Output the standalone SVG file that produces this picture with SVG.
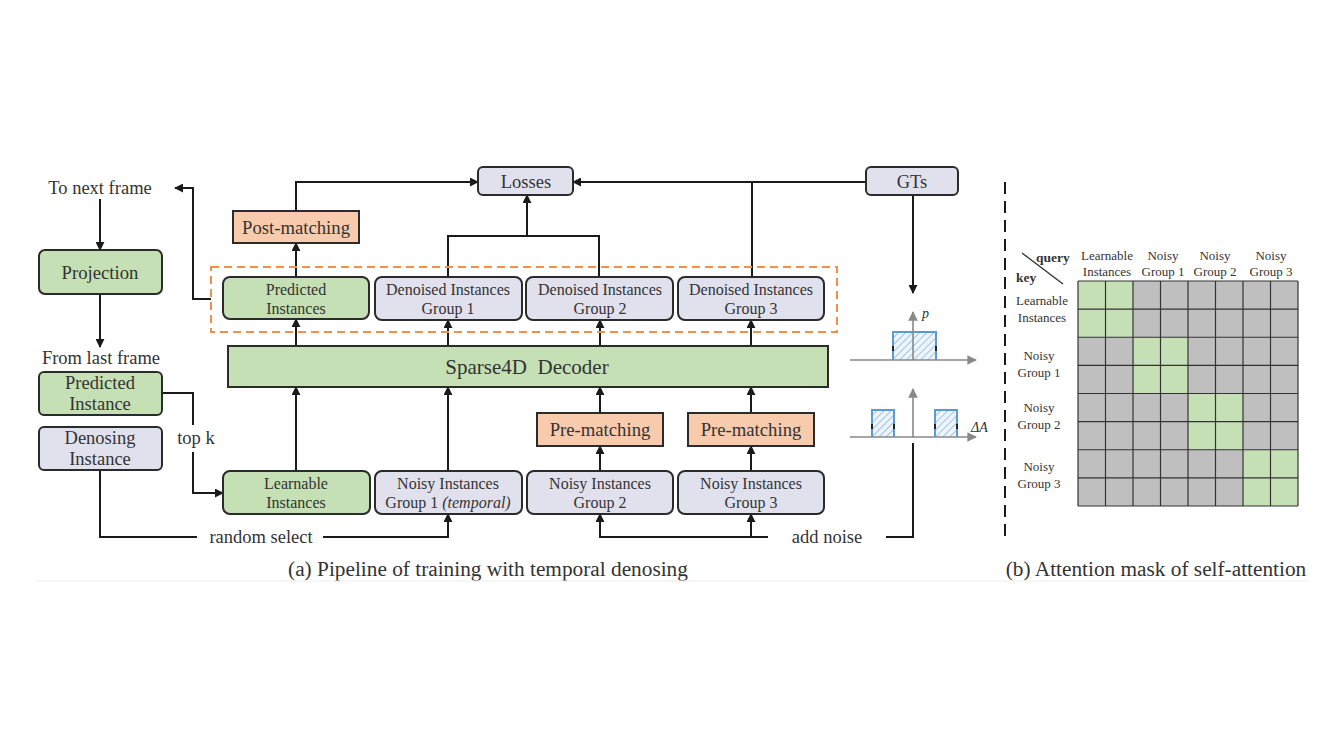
<svg xmlns="http://www.w3.org/2000/svg" width="1344" height="747" viewBox="0 0 1344 747">
<style>
text{font-family:"Liberation Serif","Times New Roman",serif;fill:#333;}
.bx{stroke:#2b2b2b;stroke-width:2;}
.g{fill:#c5e0b4;}
.p{fill:#e1e1ee;}
.o{fill:#f8cbad;}
.ln{fill:none;stroke:#1a1a1a;stroke-width:2;}
.ax{fill:none;stroke:#888;stroke-width:1.6;}
.t15{font-size:16px;text-anchor:middle;}
.t17{font-size:18.5px;text-anchor:middle;}
.t18{font-size:18.7px;text-anchor:middle;}
.t12{font-size:13px;text-anchor:middle;}
</style>
<defs>
<marker id="ar" viewBox="0 0 10 10" refX="9" refY="5" markerWidth="4.5" markerHeight="4.5" orient="auto-start-reverse" markerUnits="strokeWidth">
<path d="M0,0 L10,5 L0,10 z" fill="#1a1a1a"/>
</marker>
<marker id="ag" viewBox="0 0 10 10" refX="9" refY="5" markerWidth="6" markerHeight="6" orient="auto" markerUnits="strokeWidth">
<path d="M0,0 L10,5 L0,10 z" fill="#888"/>
</marker>
<pattern id="hatch" width="5" height="5" patternUnits="userSpaceOnUse" patternTransform="rotate(45)">
<rect width="5" height="5" fill="#eef4fb"/>
<line x1="0" y1="0" x2="0" y2="5" stroke="#9ec3e6" stroke-width="2"/>
</pattern>
</defs>
<rect width="1344" height="747" fill="#fff"/>

<!-- connectors -->
<g id="connectors">
<line class="ln" x1="100" y1="199" x2="100" y2="250" marker-end="url(#ar)"/>
<line class="ln" x1="100" y1="294" x2="100" y2="347" marker-end="url(#ar)"/>
<polyline class="ln" points="211,299 193,299 193,188 175,188" marker-end="url(#ar)"/>
<polyline class="ln" points="162,393 193,393 193,425"/>
<polyline class="ln" points="193,452 193,493 223,493" marker-end="url(#ar)"/>
<polyline class="ln" points="100,470 100,537 197,537"/>
<polyline class="ln" points="323,537 448,537 448,514" marker-end="url(#ar)"/>
<line class="ln" x1="296" y1="471" x2="296" y2="387" marker-end="url(#ar)"/>
<line class="ln" x1="448" y1="471" x2="448" y2="387" marker-end="url(#ar)"/>
<line class="ln" x1="600" y1="471" x2="600" y2="446" marker-end="url(#ar)"/>
<line class="ln" x1="600" y1="413" x2="600" y2="387" marker-end="url(#ar)"/>
<line class="ln" x1="751" y1="471" x2="751" y2="446" marker-end="url(#ar)"/>
<line class="ln" x1="751" y1="413" x2="751" y2="387" marker-end="url(#ar)"/>
<line class="ln" x1="296" y1="346" x2="296" y2="319" marker-end="url(#ar)"/>
<line class="ln" x1="448" y1="346" x2="448" y2="320" marker-end="url(#ar)"/>
<line class="ln" x1="600" y1="346" x2="600" y2="320" marker-end="url(#ar)"/>
<line class="ln" x1="751" y1="346" x2="751" y2="320" marker-end="url(#ar)"/>
<line class="ln" x1="296" y1="277" x2="296" y2="243" marker-end="url(#ar)"/>
<polyline class="ln" points="296,211 296,182 478,182" marker-end="url(#ar)"/>
<polyline class="ln" points="448,277 448,236 599,236 599,277"/>
<line class="ln" x1="527" y1="236" x2="527" y2="195" marker-end="url(#ar)"/>
<line class="ln" x1="866" y1="182" x2="573" y2="182" marker-end="url(#ar)"/>
<line class="ln" x1="752" y1="277" x2="752" y2="182"/>
<line class="ln" x1="913" y1="195" x2="913" y2="293" marker-end="url(#ar)"/>
<polyline class="ln" points="913,443 913,537 886,537"/>
<polyline class="ln" points="768,537 600,537 600,514" marker-end="url(#ar)"/>
<line class="ln" x1="751" y1="537" x2="751" y2="514" marker-end="url(#ar)"/>
</g>

<!-- left column -->
<text class="t17" x="100" y="194">To next frame</text>
<g id="projection">
<rect class="bx g" x="39" y="250" width="123" height="44" rx="6"/>
<text class="t18" x="100" y="279">Projection</text>
</g>
<text class="t17" x="101" y="364">From last frame</text>
<g id="predicted-instance">
<rect class="bx g" x="39" y="372" width="123" height="43" rx="5"/>
<text class="t17" x="100" y="389">Predicted</text>
<text class="t17" x="100" y="410">Instance</text>
</g>
<g id="denosing-instance">
<rect class="bx p" x="39" y="427" width="123" height="43" rx="5"/>
<text class="t17" x="100" y="444">Denosing</text>
<text class="t17" x="100" y="465">Instance</text>
</g>
<text x="196" y="444" style="font-size:18.5px;text-anchor:middle">top k</text>
<text x="261" y="543" style="font-size:18.5px;text-anchor:middle">random select</text>
<text x="827" y="543" style="font-size:18.5px;text-anchor:middle">add noise</text>

<!-- top nodes -->
<g id="losses">
<rect class="bx p" x="478" y="167" width="95" height="28" rx="5"/>
<text class="t17" x="526" y="188">Losses</text>
</g>
<g id="gts">
<rect class="bx p" x="866" y="167" width="92" height="28" rx="5"/>
<text class="t17" x="912" y="188">GTs</text>
</g>
<g id="post-matching">
<rect class="bx o" x="233" y="211" width="126" height="32"/>
<text class="t18" x="296" y="234">Post-matching</text>
</g>

<rect x="211" y="267" width="626" height="65" fill="none" stroke="#f0904a" stroke-width="2" stroke-dasharray="8,5"/>

<g id="predicted-instances">
<rect class="bx g" x="223" y="277" width="146" height="42" rx="7"/>
<text class="t15" x="296" y="295">Predicted</text>
<text class="t15" x="296" y="314">Instances</text>
</g>
<g id="denoised-1">
<rect class="bx p" x="375" y="277" width="147" height="43" rx="7"/>
<text class="t15" x="448" y="295">Denoised Instances</text>
<text class="t15" x="448" y="314">Group 1</text>
</g>
<g id="denoised-2">
<rect class="bx p" x="526" y="277" width="147" height="43" rx="7"/>
<text class="t15" x="600" y="295">Denoised Instances</text>
<text class="t15" x="600" y="314">Group 2</text>
</g>
<g id="denoised-3">
<rect class="bx p" x="678" y="277" width="146" height="43" rx="7"/>
<text class="t15" x="751" y="295">Denoised Instances</text>
<text class="t15" x="751" y="314">Group 3</text>
</g>

<g id="decoder">
<rect class="bx g" x="228" y="346" width="600" height="41"/>
<text x="527" y="374" style="font-size:21px;text-anchor:middle;white-space:pre">Sparse4D  Decoder</text>
</g>

<g id="pre-matching-2">
<rect class="bx o" x="537" y="413" width="126" height="33"/>
<text class="t18" x="600" y="436">Pre-matching</text>
</g>
<g id="pre-matching-3">
<rect class="bx o" x="688" y="413" width="126" height="33"/>
<text class="t18" x="751" y="436">Pre-matching</text>
</g>

<g id="learnable-instances">
<rect class="bx g" x="223" y="471" width="147" height="43" rx="7"/>
<text class="t15" x="296" y="489">Learnable</text>
<text class="t15" x="296" y="508">Instances</text>
</g>
<g id="noisy-1">
<rect class="bx p" x="375" y="471" width="147" height="43" rx="7"/>
<text class="t15" x="448" y="489">Noisy Instances</text>
<text class="t15" x="448" y="508">Group 1 <tspan font-style="italic">(temporal)</tspan></text>
</g>
<g id="noisy-2">
<rect class="bx p" x="527" y="471" width="146" height="43" rx="7"/>
<text class="t15" x="600" y="489">Noisy Instances</text>
<text class="t15" x="600" y="508">Group 2</text>
</g>
<g id="noisy-3">
<rect class="bx p" x="678" y="471" width="146" height="43" rx="7"/>
<text class="t15" x="751" y="489">Noisy Instances</text>
<text class="t15" x="751" y="508">Group 3</text>
</g>

<!-- plots -->
<g id="plot-p">
<rect x="893" y="332" width="43" height="28" fill="url(#hatch)"/>
<polyline points="893,360 893,332 936,332 936,360" fill="none" stroke="#5b9bd5" stroke-width="2"/>
<line x1="893" y1="346" x2="893" y2="351" stroke="#222" stroke-width="2"/>
<line x1="936" y1="346" x2="936" y2="351" stroke="#222" stroke-width="2"/>
<line class="ax" x1="850" y1="360" x2="976" y2="360" marker-end="url(#ag)"/>
<line class="ax" x1="913" y1="360" x2="913" y2="312" marker-end="url(#ag)"/>
<text x="922" y="318" style="font-size:14px;font-style:italic">p</text>
</g>
<g id="plot-da">
<rect x="872" y="410" width="22" height="27" fill="url(#hatch)"/>
<rect x="935" y="410" width="22" height="27" fill="url(#hatch)"/>
<polyline points="872,437 872,410 894,410 894,437" fill="none" stroke="#5b9bd5" stroke-width="2"/>
<polyline points="935,437 935,410 957,410 957,437" fill="none" stroke="#5b9bd5" stroke-width="2"/>
<line x1="872" y1="424" x2="872" y2="429" stroke="#222" stroke-width="2"/>
<line x1="894" y1="424" x2="894" y2="429" stroke="#222" stroke-width="2"/>
<line x1="935" y1="424" x2="935" y2="429" stroke="#222" stroke-width="2"/>
<line x1="957" y1="424" x2="957" y2="429" stroke="#222" stroke-width="2"/>
<line class="ax" x1="850" y1="437" x2="976" y2="437" marker-end="url(#ag)"/>
<line class="ax" x1="913" y1="437" x2="913" y2="389" marker-end="url(#ag)"/>
<text x="971" y="432" style="font-size:14px;font-style:italic">ΔA</text>
</g>

<!-- divider -->
<line x1="1005" y1="182" x2="1005" y2="542" stroke="#1a1a1a" stroke-width="2" stroke-dasharray="12,7"/>

<!-- attention mask -->
<g id="attention-mask">
<rect x="1078" y="281" width="220" height="225" fill="#bfbfbf"/>
<rect x="1078" y="281" width="55" height="56.25" fill="#c5e0b4"/>
<rect x="1133" y="337.25" width="55" height="56.25" fill="#c5e0b4"/>
<rect x="1188" y="393.5" width="55" height="56.25" fill="#c5e0b4"/>
<rect x="1243" y="449.75" width="55" height="56.25" fill="#c5e0b4"/>
<g stroke="#333" stroke-width="1.2">
<line x1="1078" y1="281" x2="1298" y2="281"/>
<line x1="1078" y1="309.1" x2="1298" y2="309.1"/>
<line x1="1078" y1="337.25" x2="1298" y2="337.25"/>
<line x1="1078" y1="365.4" x2="1298" y2="365.4"/>
<line x1="1078" y1="393.5" x2="1298" y2="393.5"/>
<line x1="1078" y1="421.6" x2="1298" y2="421.6"/>
<line x1="1078" y1="449.75" x2="1298" y2="449.75"/>
<line x1="1078" y1="477.9" x2="1298" y2="477.9"/>
<line x1="1078" y1="506" x2="1298" y2="506"/>
<line x1="1078" y1="281" x2="1078" y2="506"/>
<line x1="1105.5" y1="281" x2="1105.5" y2="506"/>
<line x1="1133" y1="281" x2="1133" y2="506"/>
<line x1="1160.5" y1="281" x2="1160.5" y2="506"/>
<line x1="1188" y1="281" x2="1188" y2="506"/>
<line x1="1215.5" y1="281" x2="1215.5" y2="506"/>
<line x1="1243" y1="281" x2="1243" y2="506"/>
<line x1="1270.5" y1="281" x2="1270.5" y2="506"/>
<line x1="1298" y1="281" x2="1298" y2="506"/>
</g>
<line x1="1022" y1="253" x2="1063" y2="284" stroke="#333" stroke-width="1.3"/>
<text x="1036" y="262" style="font-size:13.5px;font-weight:bold">query</text>
<text x="1016" y="282" style="font-size:13.5px;font-weight:bold">key</text>
<text class="t12" x="1107" y="260">Learnable</text>
<text class="t12" x="1107" y="276">Instances</text>
<text class="t12" x="1163" y="260">Noisy</text>
<text class="t12" x="1163" y="276">Group 1</text>
<text class="t12" x="1215" y="260">Noisy</text>
<text class="t12" x="1215" y="276">Group 2</text>
<text class="t12" x="1271" y="260">Noisy</text>
<text class="t12" x="1271" y="276">Group 3</text>
<text class="t12" x="1042" y="305">Learnable</text>
<text class="t12" x="1042" y="322">Instances</text>
<text class="t12" x="1039" y="360">Noisy</text>
<text class="t12" x="1039" y="377">Group 1</text>
<text class="t12" x="1039" y="412">Noisy</text>
<text class="t12" x="1039" y="429">Group 2</text>
<text class="t12" x="1039" y="471">Noisy</text>
<text class="t12" x="1039" y="488">Group 3</text>
</g>

<!-- captions -->
<text x="488" y="576" style="font-size:21.3px;text-anchor:middle">(a) Pipeline of training with temporal denosing</text>
<text x="1156" y="576" style="font-size:21.3px;text-anchor:middle">(b) Attention mask of self-attention</text>
<line x1="35" y1="581" x2="1308" y2="581" stroke="#eeeeee" stroke-width="1"/>
</svg>
